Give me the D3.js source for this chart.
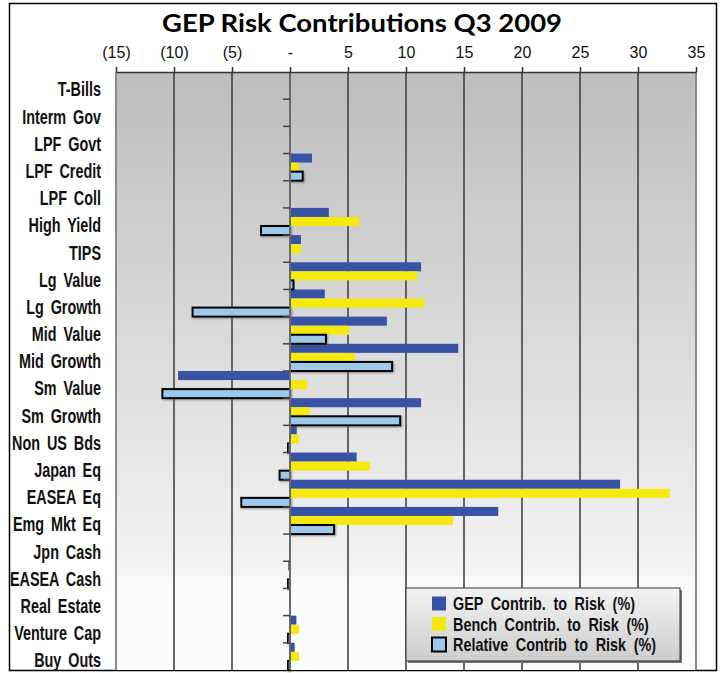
<!DOCTYPE html>
<html>
<head>
<meta charset="utf-8">
<script src="https://cdn.jsdelivr.net/npm/d3@7"></script>
<style>
  body { margin: 0; background: #fff; }
  svg { display: block; }
</style>
</head>
<body>
<div id="chart"></div>
<script>
const categories = ["T-Bills", "Interm Gov", "LPF Govt", "LPF Credit", "LPF Coll", "High Yield", "TIPS",
    "Lg Value", "Lg Growth", "Mid Value", "Mid Growth", "Sm Value", "Sm Growth", "Non US Bds",
    "Japan Eq", "EASEA Eq", "Emg Mkt Eq", "Jpn Cash", "EASEA Cash", "Real Estate", "Venture Cap", "Buy Outs"];
const gepValues = [0, 0, 0, 1.9, 0, 3.35, 0.95, 11.3, 3.0, 8.35, 14.5, -9.65, 11.3, 0.58,
    5.75, 28.45, 17.95, 0, -0.15, 0, 0.55, 0.4];
const benchValues = [0, 0, 0, 0.78, 0, 5.95, 0.95, 10.95, 11.6, 5.1, 5.6, 1.5, 1.7, 0.78,
    6.9, 32.75, 14.05, 0, 0, 0, 0.78, 0.78];
const relValues = [0, 0, 0, 1.1, 0, -2.5, 0, 0.3, -8.4, 3.1, 8.8, -11.0, 9.5, -0.2,
    -0.9, -4.2, 3.8, 0, -0.2, 0, -0.2, -0.2];
const seriesNames = ["GEP Contrib. to Risk (%)", "Bench Contrib. to Risk (%)", "Relative Contrib to Risk (%)"];
const seriesColors = ["#3853a4", "#f5ea10", "#9dc8ea"];
const xTicks = [-15, -10, -5, 0, 5, 10, 15, 20, 25, 30, 35];

const W = 723, H = 673;
const plot = { left: 116, right: 696, top: 72, bottom: 670 };
const labelFont = "'Liberation Sans', Arial, sans-serif";
const squeeze = 0.72;

const svg = d3.select("#chart").append("svg")
    .attr("width", W)
    .attr("height", H);

const defs = svg.append("defs");
const bg = defs.append("linearGradient").attr("id", "plotBg")
    .attr("x1", 0).attr("y1", 0).attr("x2", 0).attr("y2", 1);
bg.append("stop").attr("offset", 0).attr("stop-color", "#bdbdbd");
bg.append("stop").attr("offset", 0.84).attr("stop-color", "#f4f4f4");
bg.append("stop").attr("offset", 0.845).attr("stop-color", "#fafafa");
bg.append("stop").attr("offset", 1).attr("stop-color", "#fcfcfc");

const lg = defs.append("linearGradient").attr("id", "legendBg")
    .attr("x1", 0).attr("y1", 0).attr("x2", 0).attr("y2", 1);
lg.append("stop").attr("offset", 0).attr("stop-color", "#f3f3f3");
lg.append("stop").attr("offset", 1).attr("stop-color", "#cdcdcd");

const shadow = defs.append("filter").attr("id", "shadow")
    .attr("x", "-20%").attr("y", "-50%").attr("width", "140%").attr("height", "200%");
shadow.append("feDropShadow")
    .attr("dx", 1).attr("dy", 1).attr("stdDeviation", 0.8)
    .attr("flood-color", "#555").attr("flood-opacity", 0.6);

// outer frame
svg.append("rect")
    .attr("x", 9.5).attr("y", 3.5)
    .attr("width", 707).attr("height", 667)
    .attr("fill", "#fff")
    .attr("stroke", "#000")
    .attr("stroke-width", 1.5);

svg.append("text")
    .attr("x", 362).attr("y", 32)
    .attr("text-anchor", "middle")
    .attr("font-family", "Lato, 'Open Sans', sans-serif")
    .attr("font-weight", "bold")
    .attr("font-size", "25px")
    .attr("textLength", 400)
    .attr("lengthAdjust", "spacingAndGlyphs")
    .text("GEP Risk Contributions Q3 2009");

const xScale = d3.scaleLinear()
    .domain([-15, 35])
    .range([plot.left, plot.right]);

const yScale = d3.scaleBand()
    .domain(categories)
    .range([plot.top, plot.bottom])
    .padding(0);

const subScale = d3.scaleBand()
    .domain(d3.range(3))
    .range([0, yScale.bandwidth()])
    .padding(0);

svg.append("rect")
    .attr("x", plot.left).attr("y", plot.top)
    .attr("width", plot.right - plot.left)
    .attr("height", plot.bottom - plot.top)
    .attr("fill", "url(#plotBg)");

// vertical gridlines
svg.append("g")
    .selectAll("line")
    .data(xTicks.filter(d => d !== -15 && d !== 0 && d !== 35))
    .join("line")
    .attr("x1", d => xScale(d)).attr("x2", d => xScale(d))
    .attr("y1", plot.top).attr("y2", plot.bottom)
    .attr("stroke", "#3a3a3a")
    .attr("stroke-width", 1.5);

// plot borders left/right
svg.append("g")
    .selectAll("line")
    .data([-15, 35])
    .join("line")
    .attr("x1", d => xScale(d)).attr("x2", d => xScale(d))
    .attr("y1", plot.top).attr("y2", plot.bottom)
    .attr("stroke", "#8a8a8a")
    .attr("stroke-width", 2);

const rows = categories.map((c, i) => ({
    cat: c,
    vals: [gepValues[i], benchValues[i], relValues[i]]
}));

const barData = rows.flatMap(r => r.vals.map((v, k) => ({ cat: r.cat, k, v })))
    .filter(d => d.v !== 0);

svg.append("g")
    .selectAll("rect")
    .data(barData.filter(d => d.k < 2))
    .join("rect")
    .attr("x", d => xScale(Math.min(0, d.v)))
    .attr("y", d => yScale(d.cat) + subScale(d.k))
    .attr("width", d => Math.abs(xScale(d.v) - xScale(0)))
    .attr("height", subScale.bandwidth())
    .attr("fill", d => seriesColors[d.k]);

svg.append("g")
    .selectAll("rect")
    .data(barData.filter(d => d.k === 2))
    .join("rect")
    .attr("x", d => xScale(Math.min(0, d.v)))
    .attr("y", d => yScale(d.cat) + subScale(d.k))
    .attr("width", d => Math.abs(xScale(d.v) - xScale(0)))
    .attr("height", subScale.bandwidth())
    .attr("fill", seriesColors[2])
    .attr("stroke", "#000")
    .attr("stroke-width", 2)
    .attr("filter", "url(#shadow)");

// zero line with category ticks
svg.append("line")
    .attr("x1", xScale(0)).attr("x2", xScale(0))
    .attr("y1", plot.top).attr("y2", plot.bottom)
    .attr("stroke", "#6a6a6a")
    .attr("stroke-width", 2);

svg.append("g")
    .selectAll("line")
    .data(categories.slice(1))
    .join("line")
    .attr("x1", xScale(0) - 7).attr("x2", xScale(0))
    .attr("y1", d => yScale(d)).attr("y2", d => yScale(d))
    .attr("stroke", "#444")
    .attr("stroke-width", 1.5);

// top axis
const xAxis = svg.append("g")
    .attr("transform", `translate(0,${plot.top})`)
    .call(d3.axisTop(xScale)
        .tickValues(xTicks)
        .tickSize(5)
        .tickSizeOuter(0)
        .tickPadding(9)
        .tickFormat(d => d < 0 ? `(${-d})` : d === 0 ? "-" : d));

xAxis.select(".domain").attr("stroke", "#333").attr("stroke-width", 1.5);
xAxis.selectAll(".tick line").attr("stroke", "#333").attr("stroke-width", 1.5);
xAxis.selectAll("text")
    .attr("font-family", "'Liberation Sans', Arial, sans-serif")
    .attr("font-size", "16px")
    .attr("fill", "#111");

// category labels (condensed by a horizontal squeeze)
svg.append("g")
    .attr("transform", `scale(${squeeze},1)`)
    .selectAll("text")
    .data(categories)
    .join("text")
    .attr("x", 101 / squeeze)
    .attr("y", d => yScale(d) + yScale.bandwidth() / 2 + 4)
    .attr("text-anchor", "end")
    .attr("dominant-baseline", "central")
    .attr("font-family", labelFont)
    .attr("font-weight", "bold")
    .attr("font-size", "20px")
    .attr("word-spacing", "4px")
    .attr("fill", "#111")
    .text(d => d);

// legend
const legend = svg.append("g").attr("transform", "translate(406,588)");
legend.append("rect")
    .attr("x", 2).attr("y", 2)
    .attr("width", 274).attr("height", 73)
    .attr("fill", "#777");
legend.append("rect")
    .attr("width", 274).attr("height", 73)
    .attr("fill", "url(#legendBg)")
    .attr("stroke", "#333")
    .attr("stroke-width", 1);

const items = legend.selectAll("g.item")
    .data(seriesNames)
    .join("g")
    .attr("class", "item")
    .attr("transform", (d, i) => `translate(0,${15.5 + i * 20.5})`);

items.append("rect")
    .attr("x", 26)
    .attr("y", -7)
    .attr("width", 14).attr("height", 14)
    .attr("fill", (d, i) => seriesColors[i])
    .attr("stroke", (d, i) => i === 2 ? "#000" : "none")
    .attr("stroke-width", 2);

items.append("text")
    .attr("transform", "translate(47,0) scale(0.8,1)")
    .attr("dominant-baseline", "central")
    .attr("font-family", labelFont)
    .attr("font-weight", "bold")
    .attr("font-size", "18px")
    .attr("word-spacing", "4.5px")
    .attr("fill", "#111")
    .text(d => d);
</script>
</body>
</html>
